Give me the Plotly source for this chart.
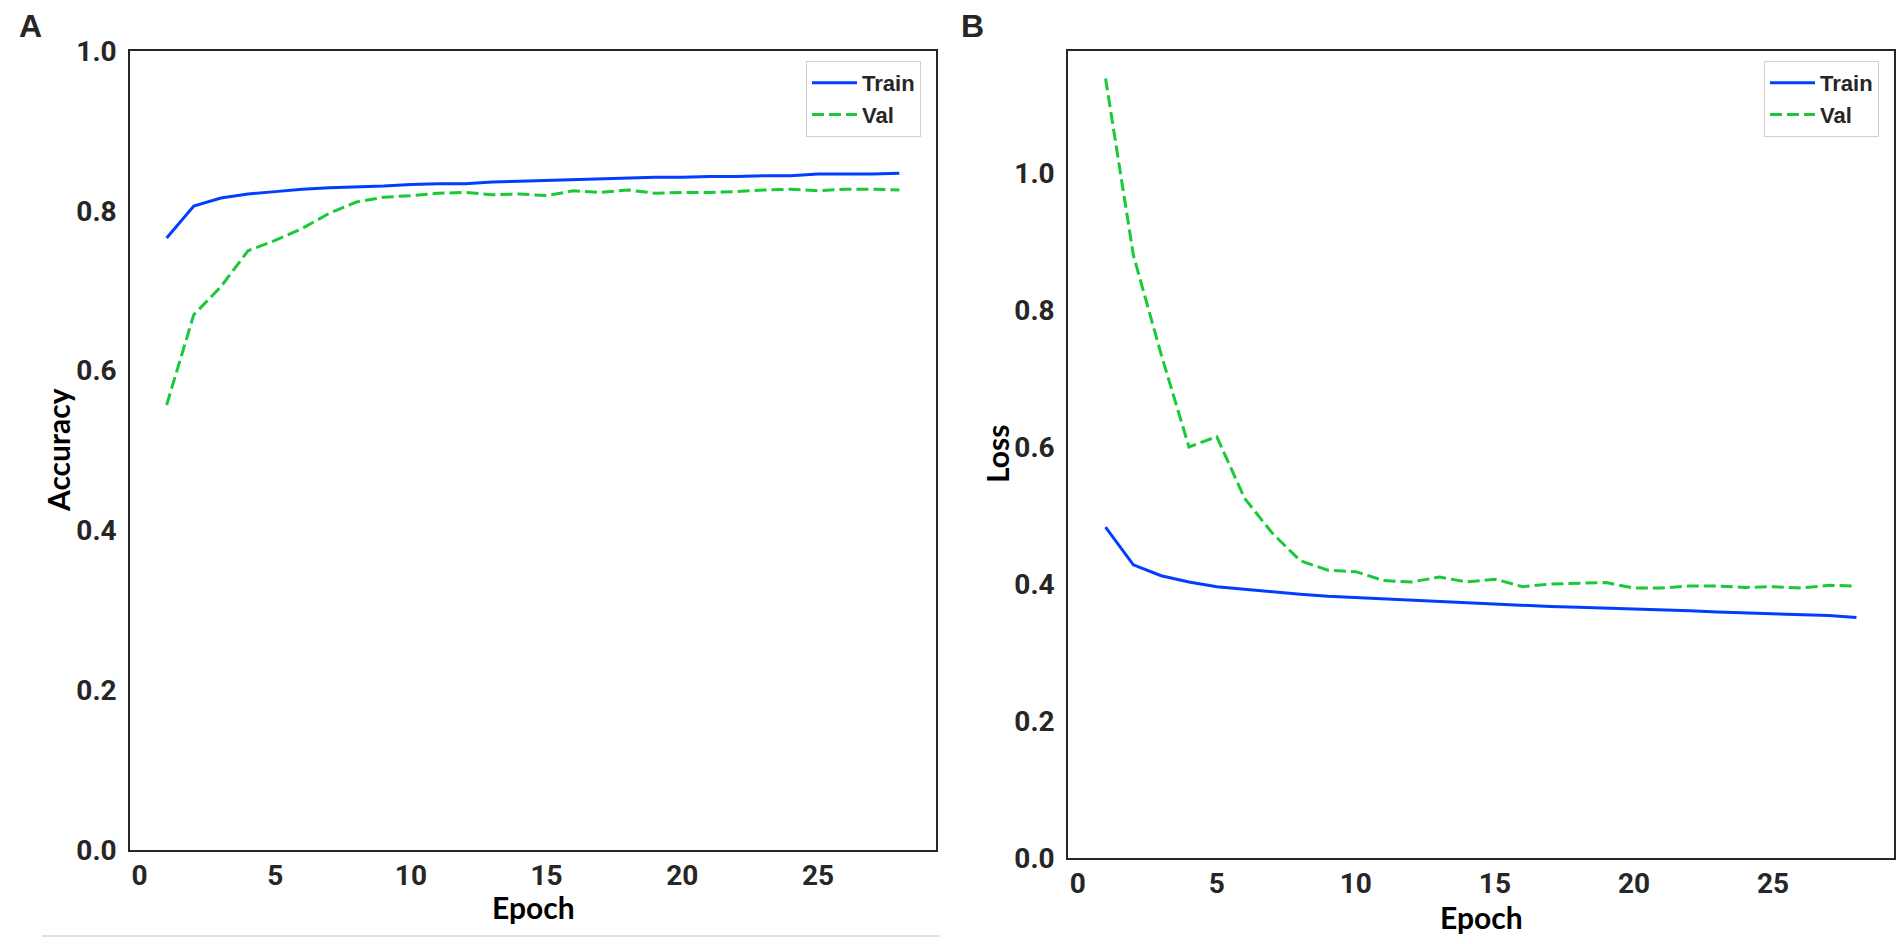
import plotly.graph_objects as go

# ------------------------------------------------------------
# Datos de entrenamiento
# ------------------------------------------------------------
epochs = list(range(1, 29))

train_acc = [0.766, 0.806, 0.816, 0.821, 0.824, 0.827, 0.829, 0.830, 0.831, 0.833,
             0.834, 0.834, 0.836, 0.837, 0.838, 0.839, 0.840, 0.841, 0.842, 0.842,
             0.843, 0.843, 0.844, 0.844, 0.846, 0.846, 0.846, 0.847]
val_acc = [0.557, 0.670, 0.705, 0.750, 0.763, 0.778, 0.797, 0.811, 0.817, 0.819,
           0.822, 0.823, 0.820, 0.821, 0.819, 0.825, 0.823, 0.826, 0.822, 0.823,
           0.823, 0.824, 0.826, 0.827, 0.825, 0.827, 0.827, 0.826]

train_loss = [0.483, 0.428, 0.412, 0.403, 0.396, 0.392, 0.388, 0.385, 0.382, 0.380,
              0.378, 0.377, 0.374, 0.372, 0.370, 0.369, 0.367, 0.366, 0.365, 0.363,
              0.362, 0.361, 0.359, 0.358, 0.356, 0.355, 0.354, 0.351]
val_loss = [1.138, 0.880, 0.735, 0.600, 0.615, 0.525, 0.474, 0.434, 0.420, 0.418,
            0.405, 0.403, 0.410, 0.403, 0.407, 0.396, 0.400, 0.401, 0.402, 0.394,
            0.394, 0.397, 0.397, 0.395, 0.396, 0.394, 0.398, 0.397]

series_names = ["Train", "Val"]
panel_labels = ["A", "B"]
y_titles = ["Accuracy", "Loss"]
x_title = "Epoch"

W, H = 1902, 944
BLUE = "#023eff"
GREEN = "#1ac938"
INK = "#262626"
TICK_FONT = dict(family="Liberation Sans Narrow, Roboto, sans-serif",
                 size=28, color=INK, weight="bold")
TITLE_FONT = dict(family="Lato, Open Sans, sans-serif", size=30, color="#000000",
                  weight="bold")
LEGEND_FONT = dict(family="Liberation Sans, Arial, sans-serif", size=22, color=INK,
                   weight="bold")
LINE_W = 3


def px_x(v):
    return v / W


def px_y(v):
    return 1 - v / H


fig = go.Figure()

# ----------------------------------------------------------
# Panel A - Accuracy
# ----------------------------------------------------------
fig.add_trace(go.Scatter(x=epochs, y=train_acc, name=series_names[0], mode="lines",
                         line=dict(color=BLUE, width=LINE_W),
                         xaxis="x", yaxis="y", legend="legend"))
fig.add_trace(go.Scatter(x=epochs, y=val_acc, name=series_names[1], mode="lines",
                         line=dict(color=GREEN, width=LINE_W, dash="12px,5px"),
                         xaxis="x", yaxis="y", legend="legend"))

# ----------------------------------------------------------
# Panel B - Loss
# ----------------------------------------------------------
fig.add_trace(go.Scatter(x=epochs, y=train_loss, name=series_names[0], mode="lines",
                         line=dict(color=BLUE, width=LINE_W),
                         xaxis="x2", yaxis="y2", legend="legend2"))
fig.add_trace(go.Scatter(x=epochs, y=val_loss, name=series_names[1], mode="lines",
                         line=dict(color=GREEN, width=LINE_W, dash="12px,5px"),
                         xaxis="x2", yaxis="y2", legend="legend2"))

axis_common = dict(showline=True, mirror=True, linecolor=INK, linewidth=1.6,
                   showgrid=False, zeroline=False, ticks="", tickfont=TICK_FONT,
                   automargin=False)
x_common = dict(axis_common, range=[-0.35, 29.35], tick0=0, dtick=5,
                ticklabelstandoff=0)
y_common = dict(axis_common, tick0=0, dtick=0.2, tickformat=".1f",
                ticklabelstandoff=6)

legend_common = dict(xanchor="right", yanchor="top", bgcolor="white",
                     bordercolor="#d0d0d0", borderwidth=1, font=LEGEND_FONT,
                     itemwidth=45, tracegroupgap=4)

fig.update_layout(
    width=W, height=H,
    margin=dict(l=0, r=0, t=0, b=0),
    paper_bgcolor="white", plot_bgcolor="white",
    xaxis=dict(x_common, domain=[px_x(130), px_x(936)], anchor="y"),
    yaxis=dict(y_common, domain=[px_y(850), px_y(51)], range=[0, 1.0], anchor="x"),
    xaxis2=dict(x_common, domain=[px_x(1068), px_x(1894)], anchor="y2"),
    yaxis2=dict(y_common, domain=[px_y(858), px_y(51)], range=[0, 1.178], anchor="x2"),
    legend=dict(legend_common, x=px_x(921), y=px_y(61)),
    legend2=dict(legend_common, x=px_x(1879), y=px_y(61)),
    showlegend=True,
)

# ----------------------------------------------------------
# Titulos de ejes y letras de panel
# ----------------------------------------------------------
annots = [
    dict(text=y_titles[0], x=px_x(58), y=px_y(450), textangle=-90),
    dict(text=y_titles[1], x=px_x(997), y=px_y(454), textangle=-90),
    dict(text=x_title, x=px_x(533), y=px_y(907)),
    dict(text=x_title, x=px_x(1481), y=px_y(917)),
]
for a in annots:
    fig.add_annotation(xref="paper", yref="paper", showarrow=False,
                       xanchor="center", yanchor="middle", font=TITLE_FONT, **a)

for lbl, cx in zip(panel_labels, [30, 972]):
    fig.add_annotation(text=lbl, xref="paper", yref="paper",
                       x=px_x(cx), y=px_y(26), showarrow=False,
                       xanchor="center", yanchor="middle",
                       font=dict(family="Liberation Sans, Arial, sans-serif",
                                 size=32, color=INK, weight="bold"))

# linea gris inferior
fig.add_shape(type="line", xref="paper", yref="paper",
              x0=px_x(42), x1=px_x(940), y0=px_y(936), y1=px_y(936),
              line=dict(color="#d9d9d9", width=1.5))

fig.write_html("out.html", config={"displayModeBar": False},
               post_script="document.body.style.margin='0px';")
